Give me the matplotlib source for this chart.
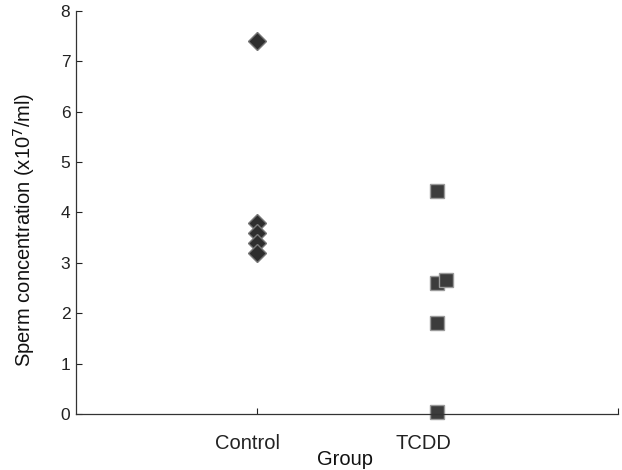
import matplotlib
matplotlib.use("Agg")
import matplotlib.pyplot as plt
from matplotlib.transforms import ScaledTranslation

categories = ["Control", "TCDD"]
control_x = [1, 1, 1, 1, 1]
control_y = [7.4, 3.8, 3.6, 3.4, 3.2]
tcdd_x = [2, 2, 2.045, 2, 2]
tcdd_y = [4.42, 2.6, 2.66, 1.81, 0.05]

plt.rcParams['font.family'] = ['Liberation Sans', 'DejaVu Sans']

fig = plt.figure(figsize=(6.22, 4.70), dpi=100)
ax = fig.add_axes([0.122, 0.119, 0.872, 0.858])

ax.plot(control_x, control_y, linestyle='none', marker='D', markersize=9,
        markerfacecolor='#2e2e2e', markeredgecolor='#777777', markeredgewidth=1.0)
ax.plot(tcdd_x, tcdd_y, linestyle='none', marker='s', markersize=10.5,
        markerfacecolor='#3c3c3c', markeredgecolor='#9a9a9a', markeredgewidth=1.0,
        clip_on=False)

ax.set_xlim(0, 3)
ax.set_ylim(0, 8)
ax.set_xticks([1, 2, 3])
ax.set_xticklabels(categories + [""])
ax.set_yticks(range(0, 9))
ax.tick_params(direction='in', length=4, width=0.8, labelsize=12.5, colors='#222222')
ax.tick_params(axis='y', pad=4)
ax.tick_params(axis='x', pad=14, labelsize=14.5)
offsets = [-9, -14, 0]
for lab, dx in zip(ax.get_xticklabels(), offsets):
    lab.set_transform(lab.get_transform() + ScaledTranslation(dx / 100, 0, fig.dpi_scale_trans))
for s in ['top', 'right']:
    ax.spines[s].set_visible(False)
for s in ['left', 'bottom']:
    ax.spines[s].set_linewidth(0.9)
    ax.spines[s].set_color('#333333')

ax.set_xlabel("Group", fontsize=14.5, color='#111111')
ax.xaxis.set_label_coords(0.496, -0.088)
ax.set_ylabel("Sperm concentration (x10$^7$/ml)", fontsize=14.5, color='#111111')
ax.yaxis.set_label_coords(-0.072, 0.457)

fig.savefig("out.png", dpi=100)
